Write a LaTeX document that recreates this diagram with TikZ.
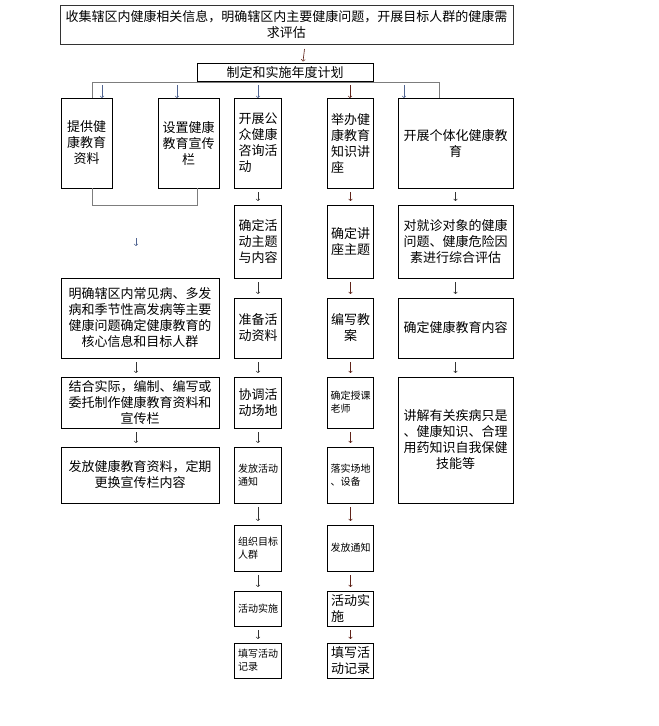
\documentclass[tikz,border=0pt]{standalone}
\usepackage{fontspec}
\setmainfont{Noto Sans CJK SC}
\definecolor{arrblue}{RGB}{80,100,145}
\definecolor{arrbrown}{RGB}{95,35,25}
\definecolor{linegray}{RGB}{125,125,125}
\begin{document}
\begin{tikzpicture}[x=1pt,y=-1pt,
  box/.style={draw,line width=.7pt,inner sep=0pt,outer sep=0pt,font=\fontsize{13}{16}\selectfont,align=center},
  sbox/.style={box,font=\fontsize{10}{13}\selectfont,align=left},
  arr/.style={->,line width=.65pt,black!80}]
\useasboundingbox (0,0) rectangle (659,726);

% top of the chart
\node[box,draw=black!80,minimum width=453,minimum height=39] (top) at (286.5,24.5)
  {收集辖区内健康相关信息，明确辖区内主要健康问题，开展目标人群的健康需\\求评估};
\node[box,minimum width=176,minimum height=18] (plan) at (285,72.5) {制定和实施年度计划};
\draw[arr,arrbrown] ([xshift=18pt,yshift=-5pt]top.south) -- ([xshift=18pt,yshift=2pt]plan.north);

% first row
\node[box,minimum width=51,minimum height=90] (a1) at (86.5,143) {提供健\\康教育\\资料};
\node[box,minimum width=61,minimum height=90] (b1) at (188.5,143) {设置健康\\教育宣传\\栏};
\node[box,align=left,minimum width=47,minimum height=90] (c1) at (258,143) {开展公\\众健康\\咨询活\\动};
\node[box,align=left,minimum width=46,minimum height=90] (d1) at (350.5,143) {举办健\\康教育\\知识讲\\座};
\node[box,minimum width=115,minimum height=90] (e1) at (455.5,143) {开展个体化健康教\\育};

% bracket under the plan
\coordinate (bl) at (92,82);
\coordinate (br) at (439,82);
\draw[linegray,line width=.8pt] (bl |- a1.north) -- (bl) -- (br) -- (br |- e1.north);
\foreach \x/\n/\c in {102/a1/arrblue,177/b1/arrblue,258/c1/arrblue,350/d1/arrbrown,404/e1/arrblue}
  \draw[arr,\c] (\x,85) -- (\x,85 |- \n.north);

% left column
\draw[linegray,line width=.8pt] ([xshift=5.5pt]a1.south) -- ++(0,17) -| ([xshift=8.5pt]b1.south);
\node[box,minimum width=158,minimum height=80] (f1) at (140,318)
  {明确辖区内常见病、多发\\病和季节性高发病等主要\\健康问题确定健康教育的\\核心信息和目标人群};
\node[box,minimum width=158,minimum height=51] (f2) at (140,402.5)
  {结合实际，编制、编写或\\委托制作健康教育资料和\\宣传栏};
\node[box,minimum width=158,minimum height=56] (f3) at (140,475)
  {发放健康教育资料，定期\\更换宣传栏内容};
\draw[arr,arrblue] ([xshift=-4pt,yshift=40pt]f1.north) -- ([xshift=-4pt,yshift=32pt]f1.north);
\draw[arr] ([xshift=-4pt,yshift=-4pt]f1.south) -- ([xshift=-4pt,yshift=4pt]f2.north);
\draw[arr] ([xshift=-4pt,yshift=-4pt]f2.south) -- ([xshift=-4pt,yshift=4pt]f3.north);

% consultation column
\node[box,minimum width=47,minimum height=73] (c2) at (258,241.5) {确定活\\动主题\\与内容};
\node[box,minimum width=47,minimum height=60] (c3) at (258,328) {准备活\\动资料};
\node[box,minimum width=47,minimum height=51] (c4) at (258,402.5) {协调活\\动场地};
\node[sbox,minimum width=47,minimum height=56] (c5) at (258,475) {发放活动\\通知};
\node[sbox,minimum width=47,minimum height=46] (c6) at (258,548) {组织目标\\人群};
\node[sbox,minimum width=47,minimum height=35] (c7) at (258,608.5) {活动实施};
\node[sbox,minimum width=47,minimum height=35] (c8) at (258,660.5) {填写活动\\记录};

% lecture column
\node[box,minimum width=46,minimum height=73] (d2) at (350.5,241.5) {确定讲\\座主题};
\node[box,minimum width=46,minimum height=60] (d3) at (350.5,328) {编写教\\案};
\node[sbox,minimum width=46,minimum height=51] (d4) at (350.5,402.5) {确定授课\\老师};
\node[sbox,minimum width=46,minimum height=56] (d5) at (350.5,475) {落实场地\\、设备};
\node[sbox,minimum width=46,minimum height=46] (d6) at (350.5,548) {发放通知};
\node[box,align=left,minimum width=46,minimum height=35] (d7) at (350.5,608.5) {活动实\\施};
\node[box,align=left,minimum width=46,minimum height=35] (d8) at (350.5,660.5) {填写活\\动记录};

\foreach \i [evaluate=\i as \j using int(\i+1)] in {1,...,7} {
  \draw[arr] ([yshift=-4pt]c\i.south) -- ([yshift=4pt]c\j.north);
  \draw[arr,arrbrown] ([yshift=-4pt]d\i.south) -- ([yshift=4pt]d\j.north);
}

% individual column
\node[box,minimum width=115,minimum height=73] (e2) at (455.5,241.5)
  {对就诊对象的健康\\问题、健康危险因\\素进行综合评估};
\node[box,minimum width=115,minimum height=60] (e3) at (455.5,328) {确定健康教育内容};
\node[box,minimum width=115,minimum height=126] (e4) at (455.5,440)
  {讲解有关疾病只是\\、健康知识、合理\\用药知识自我保健\\技能等};
\foreach \i [evaluate=\i as \j using int(\i+1)] in {1,2,3}
  \draw[arr] ([yshift=-4pt]e\i.south) -- ([yshift=4pt]e\j.north);
\end{tikzpicture}
\end{document}
